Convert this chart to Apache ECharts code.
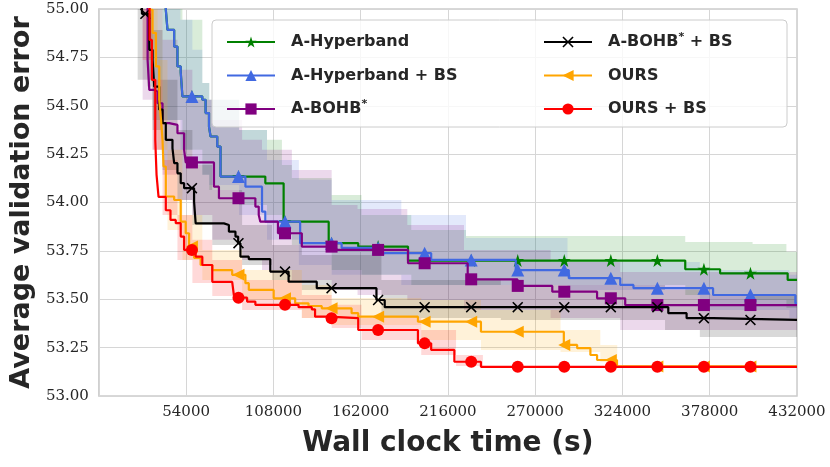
<!DOCTYPE html>
<html><head><meta charset="utf-8">
<script src="https://cdn.jsdelivr.net/npm/echarts@6/dist/echarts.min.js"></script>
<style>html,body{margin:0;padding:0;background:#fff}#c{width:830px;height:467px}</style>
</head><body><div id="c"></div>
<script>
// ---- data (time in s, average validation error) ----
const names = ['A-Hyperband', 'A-Hyperband + BS', 'A-BOHB*', 'A-BOHB* + BS', 'OURS', 'OURS + BS'];
const colors = ['#008000', '#4169e1', '#800080', '#000000', '#ffa500', '#ff0000'];

// mean curves: [time, value], value holds until next time
const hyperband = [[38000,55.5],[41440,54.996],[42480,54.892],[46610,54.806],[48640,54.703],[50670,54.673],[51720,54.548],[64030,54.531],[66070,54.462],[68160,54.392],[69140,54.341],[73270,54.289],[75300,54.134],[103010,54.099],[114340,53.901],[142230,53.79],[160510,53.772],[191300,53.70],[362850,53.655],[384400,53.634],[426220,53.60],[432000,53.60]];
const hyperbandBS = [[38000,55.5],[41440,54.996],[42480,54.892],[46610,54.806],[48640,54.703],[50670,54.673],[51720,54.548],[64030,54.531],[66070,54.462],[68160,54.392],[69140,54.341],[73270,54.289],[75300,54.134],[90690,54.082],[100970,53.953],[103010,53.901],[124560,53.79],[150230,53.765],[172820,53.738],[205640,53.703],[257970,53.651],[290790,53.609],[322620,53.574],[330810,53.557],[380070,53.522],[430990,53.479],[432000,53.479]];
const bohb = [[22000,55.5],[27090,55.048],[30170,54.737],[31220,54.582],[34300,54.573],[36330,54.513],[39400,54.41],[43530,54.401],[48640,54.358],[52770,54.272],[53750,54.207],[71240,54.082],[74310,54.022],[96850,53.979],[98940,53.935],[99930,53.901],[110830,53.841],[125600,53.772],[144070,53.755],[191300,53.686],[228240,53.603],[259020,53.569],[280570,53.539],[308290,53.505],[325700,53.47],[432000,53.47]];
const bohbBS = [[20000,55.3],[26660,54.975],[31220,54.789],[33250,54.737],[34300,54.599],[37370,54.48],[39400,54.41],[41440,54.324],[45560,54.281],[46610,54.203],[48640,54.151],[50670,54.1],[52770,54.074],[58920,54.005],[59910,53.892],[77390,53.884],[80470,53.85],[84530,53.824],[86200,53.79],[87620,53.72],[92790,53.707],[106080,53.643],[117410,53.591],[134840,53.557],[171780,53.496],[176890,53.459],[352360,53.428],[363690,53.402],[380070,53.393],[432000,53.393]];
const ours = [[22000,55.5],[31590,54.996],[33250,54.877],[35280,54.703],[37370,54.531],[38480,54.427],[39400,54.324],[40020,54.186],[41440,54.031],[46610,54.013],[50670,53.901],[53750,53.841],[55840,53.772],[58920,53.714],[62990,53.677],[70190,53.651],[82500,53.626],[90690,53.583],[92790,53.548],[108180,53.505],[121480,53.479],[129730,53.465],[137920,53.453],[156390,53.428],[160510,53.41],[197450,53.384],[236430,53.332],[287720,53.264],[295960,53.247],[304160,53.212],[308290,53.186],[320600,53.153],[432000,53.153]];
const oursBS = [[24000,55.5],[29120,55.048],[31400,54.84],[32820,54.634],[34910,54.324],[35710,54.143],[36940,54.029],[41440,53.96],[44330,53.91],[47590,53.893],[50670,53.824],[52770,53.755],[59910,53.72],[64030,53.677],[70190,53.59],[82500,53.583],[83550,53.522],[86200,53.508],[91740,53.488],[96850,53.471],[123570,53.459],[131760,53.448],[133790,53.41],[142040,53.402],[160510,53.341],[197450,53.272],[205640,53.238],[219990,53.177],[236430,53.151],[432000,53.151]];

// shaded spread: [time, lower, upper]
const hyperbandBand = [[30000,54.6,55.5],[33250,54.427,55.3],[51720,54.272,54.944],[64030,54.143,54.618],[68340,54.065,54.531],[86810,53.987,54.375],[104050,53.935,54.324],[113290,53.832,54.194],[119440,53.78,54.127],[144070,53.651,54.039],[162540,53.626,53.936],[193330,53.574,53.858],[227190,53.574,53.827],[362850,53.522,53.796],[404510,53.496,53.786],[425450,53.455,53.745],[432000,53.455,53.745]];
const hyperbandBSBand = [[39400,54.427,55.3],[50490,54.272,54.944],[57880,54.194,54.789],[64030,54.143,54.618],[68340,54.091,54.531],[86810,53.936,54.375],[104050,53.807,54.22],[123760,53.677,54.117],[144070,53.626,54.013],[187170,53.574,53.936],[227190,53.574,53.817],[289990,53.548,53.693],[371880,53.445,53.651],[427300,53.403,53.626],[432000,53.403,53.626]];
const bohbBand = [[27090,54.531,55.3],[33250,54.272,55.3],[39400,54.143,54.841],[48640,54.013,54.686],[57880,53.936,54.531],[70190,53.807,54.427],[88660,53.703,54.324],[100970,53.651,54.272],[119440,53.6,54.168],[144070,53.548,53.987],[160080,53.522,53.967],[190870,53.496,53.884],[225960,53.445,53.755],[279530,53.403,53.693],[322630,53.341,53.641],[432000,53.341,53.641]];
const bohbBSBand = [[24010,54.634,55.3],[33250,54.375,54.892],[39400,54.168,54.634],[48640,54.013,54.375],[57880,53.884,54.194],[70190,53.781,54.065],[88660,53.677,53.884],[107130,53.6,53.781],[125600,53.548,53.729],[174860,53.403,53.6],[248740,53.393,53.574],[350330,53.341,53.548],[371880,53.305,53.522],[432000,53.305,53.522]];
const oursBand = [[30170,54.737,55.3],[36330,54.272,54.737],[42480,53.858,54.272],[51720,53.703,53.936],[64030,53.6,53.755],[88660,53.496,53.651],[125600,53.403,53.574],[144070,53.367,53.507],[199490,53.29,53.496],[236430,53.238,53.445],[285690,53.228,53.341],[310310,53.176,53.264],[320780,53.153,53.153],[432000,53.153,53.153]];
const oursBSBand = [[27090,54.737,55.3],[33250,54.272,54.634],[39400,53.936,54.22],[48640,53.703,53.936],[57880,53.584,53.807],[70190,53.517,53.703],[88660,53.445,53.6],[125600,53.403,53.522],[144070,53.352,53.471],[162540,53.29,53.403],[199490,53.212,53.341],[221040,53.155,53.212],[237660,53.151,53.151],[432000,53.151,53.151]];

const xTicks = [0, 54000, 108000, 162000, 216000, 270000, 324000, 378000, 432000];
const yTicks = [53.00, 53.25, 53.50, 53.75, 54.00, 54.25, 54.50, 54.75, 55.00];
const markerTimes = [28800, 57600, 86400, 115200, 144000, 172800, 201600, 230400, 259200, 288000, 316800, 345600, 374400, 403200];

// ---- presentation ----
const means = [hyperband, hyperbandBS, bohb, bohbBS, ours, oursBS];
const bands = [hyperbandBand, hyperbandBSBand, bohbBand, bohbBSBand, oursBand, oursBSBand];
const fills = ['rgba(0,128,0,0.15)', 'rgba(65,105,225,0.15)', 'rgba(128,0,128,0.15)', 'rgba(0,0,0,0.15)', 'rgba(255,165,0,0.15)', 'rgba(255,0,0,0.15)'];
const symbols = [
  'path://M50,0L61.2,34.5L97.6,34.5L68.2,55.9L79.4,90.5L50,69.1L20.6,90.5L31.8,55.9L2.4,34.5L38.8,34.5Z',
  'triangle',
  'rect',
  'path://M0,1L1,0L5,4L9,0L10,1L6,5L10,9L9,10L5,6L1,10L0,9L4,5Z',
  'path://M0,50L86.6,0L86.6,100Z',
  'circle'
];
const symSizes = [13, 13, 12, 11, 12, 12];

function valueAt(arr, t) {
  let v = arr[0][1];
  for (const p of arr) { if (p[0] <= t) v = p[1]; else break; }
  return v;
}
function bandRender(band, fill) {
  return function (params, api) {
    if (params.dataIndex !== 0) return null;
    const up = [], lo = [];
    for (let i = 0; i < band.length; i++) {
      const b = band[i];
      if (i > 0) {
        up.push(api.coord([b[0], band[i - 1][2]]));
        lo.push(api.coord([b[0], band[i - 1][1]]));
      }
      up.push(api.coord([b[0], b[2]]));
      lo.push(api.coord([b[0], b[1]]));
    }
    return { type: 'polygon', shape: { points: up.concat(lo.reverse()) }, style: { fill: fill } };
  };
}

const series = [];
names.forEach((n, i) => {
  series.push({
    name: n, type: 'line', step: 'end', data: means[i], showSymbol: false,
    symbol: symbols[i], symbolSize: symSizes[i],
    lineStyle: { color: colors[i], width: 2.2 }, itemStyle: { color: colors[i] },
    z: 2 + i * 2, silent: true, animation: false, clip: true
  });
});
names.forEach((n, i) => {
  series.push({
    type: 'custom', renderItem: bandRender(bands[i], fills[i]), data: bands[i],
    encode: { x: 0, y: [1, 2] }, z: 1, clip: true, silent: true, animation: false
  });
});
names.forEach((n, i) => {
  series.push({
    type: 'scatter', data: markerTimes.map(t => [t, valueAt(means[i], t)]),
    symbol: symbols[i], symbolSize: symSizes[i], itemStyle: { color: colors[i], opacity: 1 },
    z: 3 + i * 2, clip: true, silent: true, animation: false
  });
});

const legendText = {
  fontFamily: 'DejaVu Sans', fontWeight: 'bold', fontSize: 16, color: '#262626', lineHeight: 20,
  padding: [0, 0, 0, 11],
  rich: { s: { fontFamily: 'DejaVu Sans', fontSize: 11, color: '#262626', verticalAlign: 'top', lineHeight: 20, padding: [0, 0, 8, 0] } }
};
const legendFmt = n => n.replace('*', '{s|*}');
const legendBase = {
  orient: 'vertical', itemWidth: 48, itemHeight: 14, itemGap: 13.5, selectedMode: false,
  textStyle: legendText, formatter: legendFmt, z: 21
};

const chart = echarts.init(document.getElementById('c'), null, { renderer: 'canvas' });
chart.setOption({
  animation: false,
  backgroundColor: '#ffffff',
  grid: { left: 96, right: 33, top: 9, bottom: 71, show: true, borderColor: '#cccccc', borderWidth: 1.5, backgroundColor: 'transparent' },
  xAxis: {
    type: 'value', min: xTicks[0], max: xTicks[xTicks.length - 1], interval: xTicks[1] - xTicks[0],
    name: 'Wall clock time (s)', nameLocation: 'middle', nameGap: 34,
    nameTextStyle: { fontFamily: 'DejaVu Sans', fontWeight: 'bold', fontSize: 28, color: '#262626' },
    axisLine: { show: false }, axisTick: { show: false },
    axisLabel: { fontFamily: 'DejaVu Serif', fontSize: 15, color: '#262626', margin: 9, formatter: v => v === 0 ? '' : String(v) },
    splitLine: { show: true, lineStyle: { color: '#d6d6d6', width: 1 } }
  },
  yAxis: {
    type: 'value', min: yTicks[0], max: yTicks[yTicks.length - 1], interval: yTicks[1] - yTicks[0],
    name: 'Average validation error', nameLocation: 'middle', nameGap: 62,
    nameTextStyle: { fontFamily: 'DejaVu Sans', fontWeight: 'bold', fontSize: 27, color: '#262626' },
    axisLine: { show: false }, axisTick: { show: false },
    axisLabel: { fontFamily: 'DejaVu Serif', fontSize: 15, color: '#262626', margin: 10, formatter: v => v.toFixed(2) },
    splitLine: { show: true, lineStyle: { color: '#d6d6d6', width: 1 } }
  },
  legend: [
    Object.assign({}, legendBase, { left: 221, top: 27, data: names.slice(0, 3) }),
    Object.assign({}, legendBase, { left: 538, top: 27, data: names.slice(3, 6) })
  ],
  graphic: [{
    type: 'rect', x: 212, y: 20, shape: { width: 575, height: 107, r: 4 },
    style: { fill: 'rgba(255,255,255,0.8)', stroke: '#cccccc', lineWidth: 1 }, z: 20, silent: true
  }],
  series: series
});
</script>
</body></html>
